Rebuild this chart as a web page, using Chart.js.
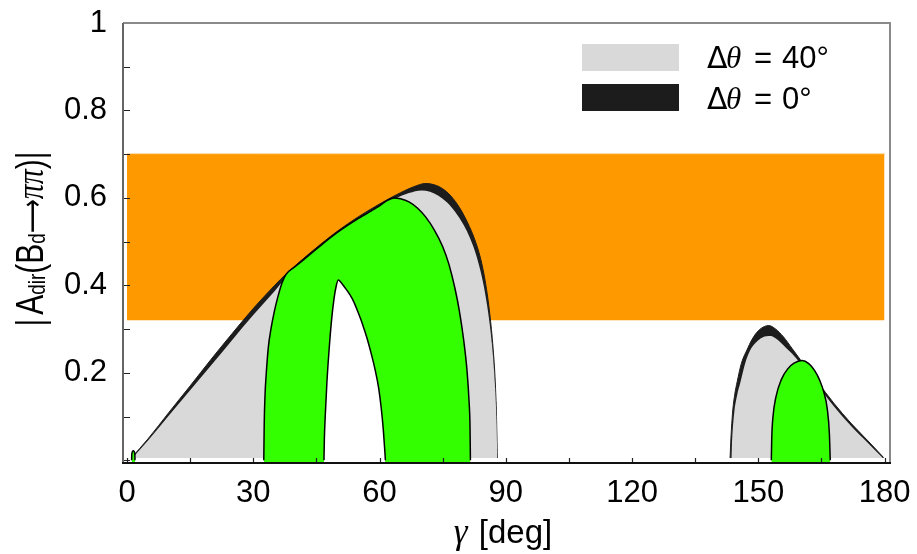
<!DOCTYPE html>
<html>
<head>
<meta charset="utf-8">
<script src="https://cdn.jsdelivr.net/npm/chart.js@4.4.0/dist/chart.umd.min.js"></script>
<style>
html, body { margin: 0; padding: 0; background: #fff; }
</style>
</head>
<body>
<canvas id="myChart" width="917" height="554"></canvas>
<script>
"use strict";
// axis ticks
const xTicks = [0, 30, 60, 90, 120, 150, 180];
const xMinorTicks = [0, 15, 30, 45, 60, 75, 90, 105, 120, 135, 150, 165, 180];
const yTicks = [0.2, 0.4, 0.6, 0.8, 1];
const yMinorTicks = [0, 0.1, 0.2, 0.3, 0.4, 0.5, 0.6, 0.7, 0.8, 0.9, 1];

// experimental band (orange)
const bandRange = [0.32, 0.70];
const bandX = [0, 180];

const legendLabels = ['40°', '0°'];

// delta theta = 0 (black envelope), [gamma, |A_dir|]
const dTheta0Left = [[1.0,0.005],[5,0.049],[10,0.110],[15,0.170],[20,0.231],[25,0.290],[30,0.347],[35,0.399],[38,0.428],[42,0.462],[46,0.494],[50,0.524],[55,0.557],[60,0.586],[64,0.607],[68,0.625],[71,0.633],[73,0.630],[75,0.621],[77,0.604],[79,0.578],[81,0.542],[82.5,0.508],[84,0.462],[85.2,0.405],[86.2,0.335],[87,0.255],[87.5,0.180],[87.8,0.100],[88,0.005]];
const dTheta0Right = [[143.3,0.005],[143.5,0.05],[143.9,0.11],[144.4,0.150],[145,0.180],[146,0.222],[147.3,0.252],[148.5,0.276],[150,0.296],[151.5,0.306],[152.5,0.308],[154,0.301],[156,0.282],[158,0.256],[160,0.230],[164,0.180],[168,0.130],[172,0.085],[176,0.045],[179.8,0.006]];

// delta theta = 40 (grey)
const dTheta40Left = [[1.3,0.005],[5,0.045],[10,0.103],[15,0.160],[20,0.217],[25,0.275],[30,0.332],[35,0.386],[38,0.420],[42,0.457],[46,0.490],[50,0.520],[55,0.553],[60,0.582],[64,0.600],[67,0.611],[70,0.617],[72,0.614],[74,0.605],[76,0.590],[78,0.568],[80,0.538],[81.5,0.508],[83,0.468],[84.3,0.420],[85.3,0.370],[86.2,0.310],[86.9,0.245],[87.4,0.177],[87.8,0.090],[88,0.005]];
const dTheta40Right = [[143.6,0.005],[143.8,0.05],[144.3,0.11],[145,0.150],[145.7,0.176],[147,0.225],[148.1,0.252],[149.5,0.270],[151,0.281],[152.9,0.284],[154.5,0.276],[156.5,0.258],[158,0.244],[160,0.221],[164,0.172],[168,0.123],[172,0.079],[176,0.040],[179.6,0.005]];

// green regions
const greenLeft = [[32.5,0],[32.6,0.08],[32.8,0.15],[33.1,0.20],[33.6,0.26],[34.2,0.30],[35,0.34],[35.8,0.372],[36.8,0.405],[37.8,0.425],[40,0.443],[42,0.459],[46,0.491],[50,0.521],[55,0.553],[60,0.582],[62,0.595],[63.5,0.600],[65,0.598],[67,0.591],[69,0.577],[71,0.556],[73,0.527],[75,0.489],[76.5,0.448],[78,0.390],[79,0.340],[80,0.275],[80.8,0.204],[81.3,0.131],[81.5,0.080],[81.6,0]];
const greenHole = [[46.8,0],[46.9,0.05],[47.1,0.10],[47.5,0.178],[48,0.25],[48.6,0.32],[49.2,0.37],[49.7,0.398],[50.2,0.412],[51,0.405],[52,0.392],[53,0.378],[54,0.360],[55,0.336],[56,0.310],[57,0.280],[58,0.245],[59,0.205],[59.8,0.165],[60.4,0.120],[60.9,0.070],[61.2,0.030],[61.4,0]];
const greenRight = [[153.1,0],[153.2,0.05],[153.5,0.100],[154.2,0.145],[155.5,0.185],[157,0.209],[158.5,0.222],[160.4,0.228],[162,0.221],[163.4,0.205],[164.5,0.185],[165.6,0.155],[166.4,0.117],[166.9,0.06],[167.1,0]];
const greenSliver = [[1.1,0],[1.15,0.015],[1.5,0.022],[1.85,0.015],[1.9,0]];

const ORANGE = '#ff9900', GREY = '#d9d9d9', BLACK = '#1c1c1c', GREEN = '#33ff00';

function pts(a) {
    return a.map(p => ({ x: p[0], y: p[1] }));
}

function area(data, color, order, fill, outline) {
    return {
        data: pts(data),
        backgroundColor: color,
        borderColor: outline ? '#000' : (color === GREY ? 'rgba(0,0,0,0)' : color),
        borderWidth: outline ? 1.5 : 1,
        fill: fill,
        pointRadius: 0,
        order: order,
        cubicInterpolationMode: 'monotone'
    };
}

function drawPieces(ctx, pieces, x0, y0) {
    let cx = x0;
    pieces.forEach(p => {
        ctx.font = p.f;
        ctx.fillText(p.t, cx, y0 + (p.dy || 0));
        cx += ctx.measureText(p.t).width + (p.gap || 0);
    });
    return cx;
}

function piecesWidth(ctx, pieces) {
    let w = 0;
    pieces.forEach(p => { ctx.font = p.f; w += ctx.measureText(p.t).width + (p.gap || 0); });
    return w;
}

const inkPlugin = {
    id: 'ink',
    afterDraw(chart) {
        const ctx = chart.ctx;
        const a = chart.chartArea;
        const x = chart.scales.x, y = chart.scales.y;
        ctx.save();
        // inward ticks
        ctx.strokeStyle = '#222';
        ctx.lineWidth = 1.2;
        ctx.beginPath();
        xMinorTicks.forEach(v => {
            const px = Math.round(x.getPixelForValue(v)) + 0.5;
            ctx.moveTo(px, a.bottom);
            ctx.lineTo(px, a.bottom - 5);
        });
        yMinorTicks.forEach(v => {
            const py = Math.round(y.getPixelForValue(v)) + 0.5;
            ctx.moveTo(a.left, py);
            ctx.lineTo(a.left + 7, py);
        });
        ctx.stroke();
        // frame
        ctx.lineWidth = 2;
        ctx.strokeStyle = '#8a8a8a';
        ctx.beginPath();
        ctx.moveTo(a.left, a.top); ctx.lineTo(a.right, a.top); ctx.lineTo(a.right, a.bottom);
        ctx.stroke();
        ctx.strokeStyle = '#666';
        ctx.beginPath();
        ctx.moveTo(a.left, a.top); ctx.lineTo(a.left, a.bottom);
        ctx.stroke();
        ctx.strokeStyle = '#111';
        ctx.beginPath();
        ctx.moveTo(a.left - 1, a.bottom); ctx.lineTo(a.right + 1, a.bottom);
        ctx.stroke();

        // legend
        ctx.fillStyle = GREY;
        ctx.fillRect(582, 44, 97, 27);
        ctx.fillStyle = BLACK;
        ctx.fillRect(582, 84, 97, 27);
        ctx.fillStyle = '#000';
        ctx.textBaseline = 'alphabetic';
        ctx.textAlign = 'left';
        [68, 109].forEach((base, i) => {
            ctx.font = '30px "DejaVu Sans"';
            ctx.fillText('Δ', 707, base);
            ctx.font = 'italic 31px "Liberation Serif"';
            ctx.fillText('θ', 726, base);
            ctx.font = '31px "Liberation Sans"';
            ctx.fillText('=', 754, base);
            ctx.fillText(legendLabels[i], 782, base);
        });

        // x title
        const xt = [
            { t: 'γ', f: 'italic 35px "Liberation Serif"', gap: 2 },
            { t: ' [deg]', f: '33px "Liberation Sans"' }
        ];
        const xw = piecesWidth(ctx, xt);
        drawPieces(ctx, xt, 503 - xw / 2, 543);

        // y title
        const yt = [
            { t: '|', f: '38px "Liberation Sans"', gap: 5 },
            { t: 'A', f: '38px "Liberation Sans"' },
            { t: 'dir', f: '24px "Liberation Sans"', dy: 2 },
            { t: '(', f: '38px "Liberation Sans"' },
            { t: 'B', f: '38px "Liberation Sans"' },
            { t: 'd', f: '24px "Liberation Sans"', dy: 2 },
            { t: '⟶', f: '30px "DejaVu Sans"', dy: -1 },
            { t: 'ππ', f: 'italic 38px "Liberation Serif"' },
            { t: ')', f: '38px "Liberation Sans"' },
            { t: '|', f: '38px "Liberation Sans"' }
        ];
        const yw = piecesWidth(ctx, yt);
        ctx.translate(43, 239);
        ctx.rotate(-Math.PI / 2);
        ctx.scale(175 / yw, 1);
        drawPieces(ctx, yt, -yw / 2, 0);
        ctx.restore();
    }
};

const ctx = document.getElementById('myChart');
var myChart = new Chart(ctx, {
    type: 'line',
    data: {
        datasets: [
            {
                data: pts([[bandX[0], bandRange[1]], [bandX[1], bandRange[1]]]),
                backgroundColor: ORANGE,
                borderColor: ORANGE,
                borderWidth: 1,
                fill: { value: bandRange[0] },
                pointRadius: 0,
                order: 10
            },
            area(dTheta0Left, BLACK, 9, { value: 0.005 }),
            area(dTheta0Right, BLACK, 9, { value: 0.005 }),
            area(dTheta40Left, GREY, 8, { value: 0.005 }),
            area(dTheta40Right, GREY, 8, { value: 0.005 }),
            area(greenLeft, GREEN, 7, 'start', true),
            area(greenRight, GREEN, 7, 'start', true),
            area(greenHole, '#ffffff', 6, 'start', true),
            area(greenSliver, GREEN, 5, 'start', true)
        ]
    },
    options: {
        responsive: false,
        animation: false,
        layout: { padding: { top: 23, right: 27, left: 0, bottom: 0 } },
        plugins: {
            legend: { display: false },
            tooltip: { enabled: false }
        },
        scales: {
            x: {
                type: 'linear',
                min: -0.95,
                max: 181.3,
                grid: { display: false, drawTicks: false },
                border: { display: false },
                afterBuildTicks: (scale) => { scale.ticks = xTicks.map(v => ({ value: v })); },
                afterFit: (scale) => {
                    scale.height = 91;
                    scale.paddingLeft = 0;
                    scale.paddingRight = 0;
                },
                ticks: {
                    padding: 12,
                    maxRotation: 0,
                    autoSkip: false,
                    color: '#000',
                    font: { family: 'Liberation Sans', size: 31 },
                    callback: (v) => String(v)
                }
            },
            y: {
                type: 'linear',
                min: -0.0063,
                max: 1,
                grid: { display: false, drawTicks: false },
                border: { display: false },
                afterBuildTicks: (scale) => { scale.ticks = yTicks.map(v => ({ value: v })); },
                afterFit: (scale) => {
                    scale.width = 123;
                    scale.paddingTop = 0;
                    scale.paddingBottom = 0;
                },
                ticks: {
                    padding: 16,
                    autoSkip: false,
                    color: '#000',
                    font: { family: 'Liberation Sans', size: 31 },
                    callback: (v) => String(v)
                }
            }
        }
    },
    plugins: [inkPlugin]
});
</script>
</body>
</html>
